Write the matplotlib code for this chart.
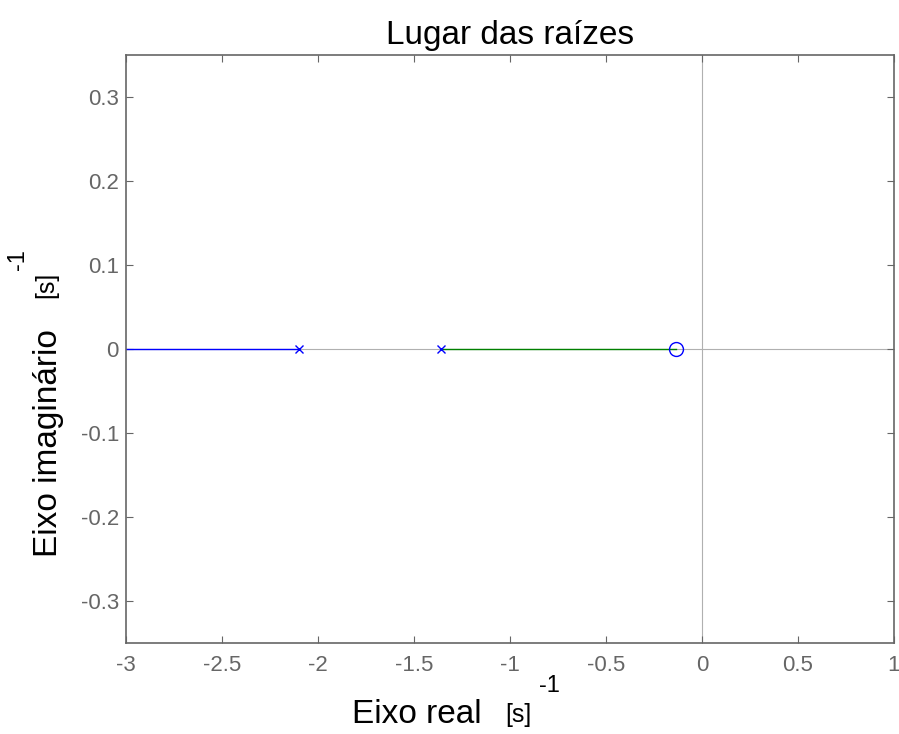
import numpy as np
import matplotlib
matplotlib.use('Agg')
import matplotlib.pyplot as plt

plt.rcParams['font.family'] = ['Liberation Sans', 'DejaVu Sans']

# locus branches on the real axis
branch1_x = [-3.0, -2.1]
branch2_x = [-1.36, -0.135]
poles_x = [-2.1, -1.36]
zeros_x = [-0.135]
xticks = [-3, -2.5, -2, -1.5, -1, -0.5, 0, 0.5, 1]
xticklabels = ['-3', '-2.5', '-2', '-1.5', '-1', '-0.5', '0', '0.5', '1']
yticks = [-0.3, -0.2, -0.1, 0, 0.1, 0.2, 0.3]
yticklabels = ['-0.3', '-0.2', '-0.1', '0', '0.1', '0.2', '0.3']

fig = plt.figure(figsize=(8.99, 7.34), dpi=100)
ax = fig.add_axes([0.140, 0.124, 0.8543, 0.801])

ax.axhline(0, color='#b0b0b0', linewidth=0.8, zorder=1)
ax.axvline(0, color='#b0b0b0', linewidth=0.8, zorder=1)

ax.plot(branch1_x, [0, 0], color='#0000ff', linewidth=1.0, zorder=2)
ax.plot(branch2_x, [0, 0], color='#008000', linewidth=1.0, zorder=2)
ax.plot(poles_x, np.zeros(len(poles_x)), 'x', color='#0000ff', markersize=6,
        markeredgewidth=1.0, linestyle='none', zorder=3)
ax.plot(zeros_x, np.zeros(len(zeros_x)), 'o', markerfacecolor='none',
        markeredgecolor='#0000ff', markersize=10, markeredgewidth=1.0,
        linestyle='none', zorder=3)

ax.set_xlim(-3, 1)
ax.set_ylim(-0.35, 0.35)
ax.set_xticks(xticks)
ax.set_xticklabels(xticklabels)
ax.set_yticks(yticks)
ax.set_yticklabels(yticklabels)
ax.tick_params(direction='in', top=True, right=True, length=5, width=0.8,
               color='#666666', labelcolor='#666666', labelsize=16)
ax.tick_params(axis='x', pad=9)
ax.tick_params(axis='y', pad=5)
for s in ax.spines.values():
    s.set_color('#666666')
    s.set_linewidth(1.2)

ax.set_title('Lugar das raízes', fontsize=24, color='black', pad=8)

# axis labels with units
fig.text(417 / 899, 1 - 723 / 734, 'Eixo real', fontsize=24, ha='center', va='baseline')
fig.text(518 / 899, 1 - 715 / 734, '[s]', fontsize=18, ha='center', va='center')
fig.text(549 / 899, 1 - 686 / 734, '-1', fontsize=17, ha='center', va='center')
fig.text(57 / 899, 1 - 443 / 734, 'Eixo imaginário', fontsize=24, rotation=90,
         rotation_mode='anchor', ha='center', va='baseline')
fig.text(46 / 899, 1 - 285 / 734, '[s]', fontsize=18, rotation=90,
         ha='center', va='center')
fig.text(18 / 899, 1 - 260 / 734, '-1', fontsize=17, rotation=90,
         ha='center', va='center')

plt.savefig('out.png', dpi=100)
plt.close()
